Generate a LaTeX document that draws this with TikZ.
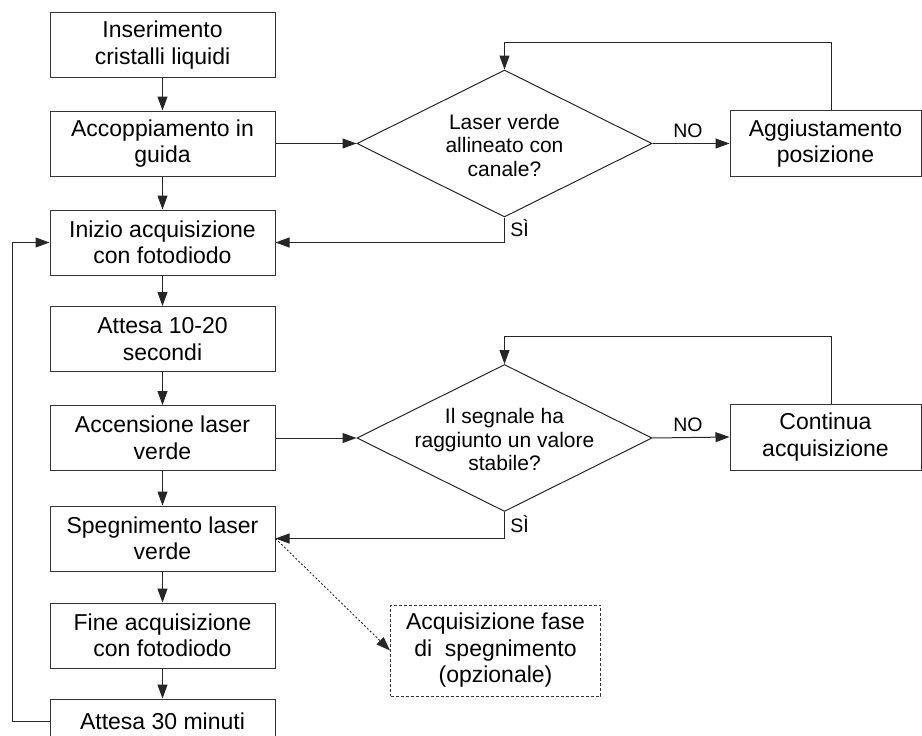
\documentclass[tikz,border=0pt]{standalone}
\usepackage{fontspec}
\setmainfont{Liberation Sans}
\usetikzlibrary{arrows.meta,shapes.geometric}
\begin{document}
\begin{tikzpicture}[x=1pt,y=-1pt,
  txt/.style={font=\fontsize{23}{26.5}\selectfont, text=black, align=center},
  dtxt/.style={font=\fontsize{21}{23.5}\selectfont, text=black, align=center},
  lbl/.style={font=\fontsize{19.5}{22}\selectfont, text=black},
  box/.style={txt, draw=black!80, line width=1pt, rectangle, minimum width=225pt, minimum height=65pt, inner sep=0pt},
  rbox/.style={txt, draw=black!80, line width=1pt, rectangle, minimum width=191pt, minimum height=66pt, inner sep=0pt},
  optbox/.style={txt, draw=black!80, line width=0.9pt, dash pattern=on 3pt off 2pt, rectangle, minimum width=210pt, minimum height=91pt, inner sep=0pt},
  dia/.style={draw=black!85, line width=1pt, diamond, minimum width=295pt, minimum height=147pt, inner sep=0pt},
  conn/.style={draw=black!85, line width=1pt},
  arr/.style={conn, -{Triangle[length=14pt,width=10pt]}},
  dotarr/.style={draw=black!85, line width=0.9pt, dash pattern=on 2pt off 2pt, -{Triangle[length=14pt,width=10pt]}}
]
\useasboundingbox (0,0) rectangle (922,736);

% left column
\node[box] (b1) at (162.5,45) {Inserimento\\cristalli liquidi};
\node[box] (b2) at (162.5,143.5) {Accoppiamento in\\guida};
\node[box] (b3) at (162.5,242.5) {Inizio acquisizione\\con fotodiodo};
\node[box] (b4) at (162.5,339) {Attesa 10-20\\secondi};
\node[box] (b5) at (162.5,438) {Accensione laser\\verde};
\node[box] (b6) at (162.5,538.5) {Spegnimento laser\\verde};
\node[box] (b7) at (162.5,635.5) {Fine acquisizione\\con fotodiodo};
\node[box, minimum height=44pt] (b8) at (162.5,721) {Attesa 30 minuti};

% decisions
\node[dia] (d1) at (504.5,143.5) {};
\node[dtxt] (d1t) at (504.5,145) {Laser verde\\allineato con\\canale?};
\node[dia] (d2) at (504.5,438) {};
\node[dtxt] (d2t) at (504.5,439.5) {Il segnale ha\\raggiunto un valore\\stabile?};

% right boxes
\node[rbox] (a1) at (825.5,143.5) {Aggiustamento\\posizione};
\node[rbox] (a2) at (825.5,437) {Continua\\acquisizione};

% optional box
\node[optbox] (opt) at (495.5,650.5) {Acquisizione fase\\di\ \ spegnimento\\(opzionale)};

\coordinate (loopA) at (831.5,42);
\coordinate (loopB) at (831.5,336);
\coordinate (loopL) at (12,0);

% vertical chain
\draw[arr] (b1.south) -- (b2.north);
\draw[arr] (b2.south) -- (b3.north);
\draw[arr] (b3.south) -- (b4.north);
\draw[arr] (b4.south) -- (b5.north);
\draw[arr] (b5.south) -- (b6.north);
\draw[arr] (b6.south) -- (b7.north);
\draw[arr] (b7.south) -- (b8.north);

% decision 1
\draw[arr] (b2.east) -- (d1.west);
\draw[arr] (d1.east) -- node[lbl, above, yshift=2pt, xshift=-3pt] {NO} (a1.west);
\draw[arr] (a1.north -| loopA) -- (loopA) -| (d1.north);
\draw[arr] (d1.south) |- node[lbl, pos=0.22, right, xshift=2pt] {SÌ} (b3.east);

% decision 2
\draw[arr] (b5.east) -- (d2.west);
\draw[arr] (d2.east) -- node[lbl, above, yshift=2pt, xshift=-3pt] {NO} (a2.west);
\draw[arr] (a2.north -| loopB) -- (loopB) -| (d2.north);
\draw[arr] (d2.south) |- node[lbl, pos=0.22, right, xshift=2pt] {SÌ} (b6.east);

% loop back
\draw[arr] (b8.west) -- (b8.west -| loopL) |- (b3.west);

% optional
\draw[dotarr] (b6.east) -- (opt.west);
\end{tikzpicture}
\end{document}
